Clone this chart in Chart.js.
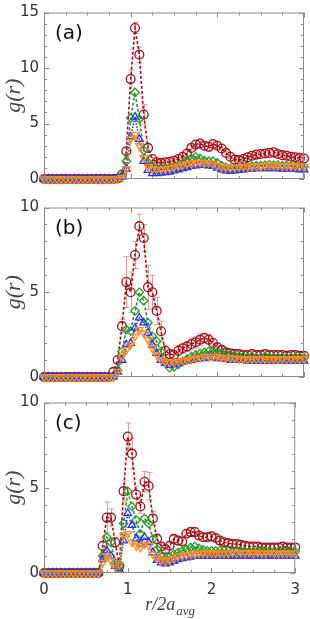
<!DOCTYPE html>
<html lang="en">
<head>
  <meta charset="UTF-8">
  <title>g(r) panels</title>
  <script src="https://cdn.jsdelivr.net/npm/chart.js"></script>
  <style>
    html, body { margin: 0; padding: 0; background: #fff; }
    .wrap { position: relative; width: 310px; height: 619px; }
    .panel { position: absolute; left: 0; width: 310px; }
  </style>
</head>
<body>
  <div class="wrap">
    <div class="panel" style="top:0"><canvas id="chartA" width="310" height="195"></canvas></div>
    <div class="panel" style="top:195px"><canvas id="chartB" width="310" height="195"></canvas></div>
    <div class="panel" style="top:390px"><canvas id="chartC" width="310" height="229"></canvas></div>
  </div>

  <script>
    // r / 2a_avg sample positions
    const r = [0, 0.05, 0.1, 0.15, 0.2, 0.25, 0.3, 0.35, 0.4, 0.45,
      0.5, 0.55, 0.6, 0.65, 0.7, 0.75, 0.8, 0.85, 0.9, 0.95,
      1.0, 1.05, 1.1, 1.15, 1.2, 1.25, 1.3, 1.35, 1.4, 1.45,
      1.5, 1.55, 1.6, 1.65, 1.7, 1.75, 1.8, 1.85, 1.9, 1.95,
      2.0, 2.05, 2.1, 2.15, 2.2, 2.25, 2.3, 2.35, 2.4, 2.45,
      2.5, 2.55, 2.6, 2.65, 2.7, 2.75, 2.8, 2.85, 2.9, 2.95, 3.0];

    // panel (a)
    const redA = [0, 0, 0, 0, 0, 0, 0, 0, 0, 0, 0, 0, 0, 0, 0, 0, 0, 0.05, 0.4, 2.5,
      9.0, 13.6, 11.2, 5.8, 2.8, 1.8, 1.5, 1.45, 1.5, 1.55,
      1.65, 1.8, 2.0, 2.3, 2.8, 3.1, 3.2, 3.0, 2.9, 3.15,
      3.0, 2.75, 2.35, 2.0, 1.75, 1.7, 1.8, 1.95, 2.1, 2.2,
      2.25, 2.3, 2.35, 2.4, 2.25, 2.15, 2.1, 2.0, 1.95, 1.9, 1.85];
    const greenA = [0, 0, 0, 0, 0, 0, 0, 0, 0, 0, 0, 0, 0, 0, 0, 0, 0, 0.05, 0.3, 1.6,
      5.5, 7.8, 5.4, 2.6, 1.5, 1.1, 0.95, 0.9, 0.95, 1.0,
      1.1, 1.2, 1.4, 1.6, 1.85, 2.0, 1.85, 1.65, 1.6, 1.6,
      1.45, 1.2, 1.05, 0.95, 0.95, 1.0, 1.05, 1.1, 1.15, 1.2,
      1.2, 1.25, 1.3, 1.25, 1.25, 1.2, 1.2, 1.15, 1.15, 1.1, 1.1];
    const blueA = [0, 0, 0, 0, 0, 0, 0, 0, 0, 0, 0, 0, 0, 0, 0, 0, 0, 0, 0.2, 0.9,
      3.8, 5.6, 3.6, 1.6, 0.8, 0.5, 0.5, 0.55, 0.6, 0.65,
      0.75, 0.85, 0.95, 1.05, 1.15, 1.2, 1.25, 1.25, 1.2, 1.15,
      1.0, 0.85, 0.75, 0.7, 0.75, 0.8, 0.85, 0.9, 0.9, 0.95,
      0.95, 0.95, 0.95, 0.95, 0.95, 0.9, 0.9, 0.9, 0.9, 0.85, 0.85];
    const orangeA = [0, 0, 0, 0, 0, 0, 0, 0, 0, 0, 0, 0, 0, 0, 0, 0, 0, 0, 0.1, 0.9,
      3.6, 4.0, 3.0, 1.9, 1.1, 0.9, 0.85, 0.85, 0.9, 0.95,
      1.05, 1.15, 1.25, 1.35, 1.4, 1.45, 1.5, 1.45, 1.45, 1.35,
      1.2, 1.05, 1.0, 1.0, 1.0, 1.05, 1.1, 1.1, 1.1, 1.15,
      1.15, 1.2, 1.2, 1.2, 1.2, 1.15, 1.15, 1.15, 1.15, 1.1, 1.1];
    const errA = [0, 0, 0, 0, 0, 0, 0, 0, 0, 0, 0, 0, 0, 0, 0, 0, 0, 0, 0.1, 0.3,
      0.8, 0.5, 0.7, 0.9, 0.3, 0.15, 0.15, 0.15, 0.15, 0.15,
      0.15, 0.15, 0.15, 0.2, 0.2, 0.25, 0.25, 0.3, 0.4, 0.3,
      0.25, 0.2, 0.15, 0.15, 0.15, 0.15, 0.15, 0.15, 0.15, 0.15,
      0.15, 0.15, 0.15, 0.15, 0.15, 0.15, 0.15, 0.15, 0.15, 0.15, 0.15];

    // panel (b)
    const redB = [0, 0, 0, 0, 0, 0, 0, 0, 0, 0, 0, 0, 0, 0, 0, 0, 0.3, 1.0, 3.0, 5.6,
      5.0, 7.2, 8.9, 8.2, 5.3, 5.0, 3.9, 2.7, 1.55, 1.35,
      1.3, 1.55, 1.7, 1.8, 1.95, 2.05, 2.2, 2.3, 2.2, 2.0,
      1.75, 1.6, 1.45, 1.4, 1.35, 1.35, 1.3, 1.3, 1.35, 1.3,
      1.3, 1.35, 1.3, 1.3, 1.3, 1.3, 1.25, 1.3, 1.3, 1.25, 1.25];
    const greenB = [0, 0, 0, 0, 0, 0, 0, 0, 0, 0, 0, 0, 0, 0, 0, 0, 0, 0.4, 1.5, 2.8,
      2.7, 3.9, 5.0, 4.5, 3.2, 2.4, 2.1, 1.5, 0.9, 0.55,
      0.6, 0.75, 0.9, 1.05, 1.2, 1.3, 1.4, 1.45, 1.5, 1.5,
      1.45, 1.4, 1.35, 1.3, 1.25, 1.2, 1.2, 1.15, 1.2, 1.15,
      1.15, 1.2, 1.15, 1.15, 1.15, 1.15, 1.15, 1.15, 1.15, 1.15, 1.15];
    const blueB = [0, 0, 0, 0, 0, 0, 0, 0, 0, 0, 0, 0, 0, 0, 0, 0, 0, 0.3, 1.0, 1.9,
      2.0, 2.9, 3.5, 3.2, 2.6, 1.9, 1.4, 1.0, 0.8, 0.7,
      0.75, 0.8, 0.9, 0.95, 1.0, 1.05, 1.1, 1.1, 1.15, 1.15,
      1.1, 1.1, 1.05, 1.0, 1.0, 1.0, 1.0, 0.95, 0.95, 0.95,
      0.95, 0.95, 0.95, 0.95, 1.0, 0.95, 0.95, 0.95, 0.95, 0.95, 0.95];
    const orangeB = [0, 0, 0, 0, 0, 0, 0, 0, 0, 0, 0, 0, 0, 0, 0, 0, 0, 0.3, 1.2, 1.6,
      1.9, 2.4, 2.8, 2.6, 2.2, 1.7, 1.3, 1.0, 0.9, 0.85,
      0.85, 0.9, 0.95, 1.0, 1.05, 1.1, 1.15, 1.2, 1.2, 1.2,
      1.2, 1.15, 1.1, 1.1, 1.1, 1.05, 1.05, 1.05, 1.05, 1.05,
      1.05, 1.05, 1.05, 1.05, 1.05, 1.05, 1.05, 1.05, 1.05, 1.05, 1.05];
    const errB = [0, 0, 0, 0, 0, 0, 0, 0, 0, 0, 0, 0, 0, 0, 0, 0, 0.2, 0.2, 0.4, 1.5,
      1.2, 0.8, 0.7, 0.8, 1.3, 1.0, 0.8, 0.6, 0.3, 0.25,
      0.25, 0.3, 0.3, 0.3, 0.35, 0.35, 0.35, 0.3, 0.3, 0.3,
      0.25, 0.2, 0.2, 0.2, 0.2, 0.2, 0.2, 0.2, 0.25, 0.2,
      0.2, 0.25, 0.2, 0.2, 0.2, 0.2, 0.2, 0.2, 0.2, 0.2, 0.2];

    // panel (c)
    const redC = [0, 0, 0, 0, 0, 0, 0, 0, 0, 0, 0, 0, 0, 0, 1.6, 3.25, 3.25, 1.8, 0.4, 4.8,
      8.0, 7.0, 4.6, 3.9, 5.35, 5.1, 3.2, 2.0, 1.55, 1.4,
      1.6, 2.0, 1.9, 1.85, 2.3, 2.4, 2.4, 2.2, 2.1, 2.1,
      2.15, 2.05, 1.9, 1.8, 1.75, 1.7, 1.7, 1.65, 1.6, 1.55,
      1.55, 1.55, 1.5, 1.5, 1.5, 1.5, 1.5, 1.55, 1.5, 1.5, 1.5];
    const greenC = [0, 0, 0, 0, 0, 0, 0, 0, 0, 0, 0, 0, 0, 0, 1.0, 2.1, 1.8, 0.6, 0.4, 2.9,
      4.8, 3.9, 3.1, 2.3, 3.2, 2.9, 2.0, 1.4, 0.95, 0.85,
      0.95, 1.1, 1.2, 1.3, 1.4, 1.5, 1.55, 1.45, 1.35, 1.3,
      1.3, 1.3, 1.3, 1.3, 1.3, 1.25, 1.3, 1.25, 1.25, 1.25,
      1.25, 1.25, 1.25, 1.25, 1.25, 1.25, 1.25, 1.25, 1.25, 1.25, 1.25];
    const blueC = [0, 0, 0, 0, 0, 0, 0, 0, 0, 0, 0, 0, 0, 0, 0.8, 1.3, 1.0, 0.4, 0.2, 1.9,
      3.5, 2.8, 2.0, 1.7, 2.1, 1.8, 1.2, 0.75, 0.6, 0.55,
      0.6, 0.7, 0.8, 0.85, 0.9, 0.95, 1.0, 1.0, 1.0, 1.0,
      1.0, 1.0, 1.0, 1.0, 1.0, 1.0, 1.0, 1.0, 1.0, 1.0,
      1.0, 1.0, 1.0, 1.0, 1.0, 1.0, 1.0, 1.0, 1.0, 1.0, 1.0];
    const orangeC = [0, 0, 0, 0, 0, 0, 0, 0, 0, 0, 0, 0, 0, 0, 0.6, 1.0, 0.7, 0.35, 0.5, 2.2,
      2.3, 1.8, 1.6, 1.5, 1.7, 1.6, 1.1, 0.85, 0.75, 0.7,
      0.75, 0.85, 0.95, 1.0, 1.05, 1.1, 1.1, 1.15, 1.15, 1.15,
      1.15, 1.15, 1.15, 1.15, 1.15, 1.2, 1.15, 1.2, 1.15, 1.2,
      1.15, 1.2, 1.15, 1.15, 1.2, 1.15, 1.15, 1.15, 1.15, 1.15, 1.15];
    const errC = [0, 0, 0, 0, 0, 0, 0, 0, 0, 0, 0, 0, 0, 0, 0.4, 0.9, 0.5, 0.3, 0.2, 0.6,
      0.8, 0.9, 0.5, 0.4, 0.6, 0.8, 0.4, 0.3, 0.2, 0.2,
      0.2, 0.2, 0.2, 0.2, 0.2, 0.25, 0.25, 0.2, 0.2, 0.2,
      0.25, 0.2, 0.2, 0.2, 0.2, 0.2, 0.2, 0.2, 0.2, 0.2,
      0.2, 0.2, 0.2, 0.2, 0.2, 0.2, 0.2, 0.2, 0.2, 0.2, 0.2];

    const xTicks = [0, 1, 2, 3];

    const tickFont = { family: 'DejaVu Sans', size: 15, lineHeight: 1 };

    // frame, inward ticks, error bars and panel letter
    const framePlugin = {
      id: 'frame',
      beforeDatasetsDraw(chart) {
        const ctx = chart.ctx, xs = chart.scales.x, ys = chart.scales.y;
        ctx.save();
        ctx.strokeStyle = 'rgba(210,120,120,0.7)';
        ctx.lineWidth = 1;
        chart.data.datasets.forEach(ds => {
          if (!ds.errors) return;
          ds.data.forEach((p, i) => {
            const e = ds.errors[i];
            if (!e) return;
            const px = Math.round(xs.getPixelForValue(p.x)) + 0.5;
            const t = ys.getPixelForValue(p.y + e), b = ys.getPixelForValue(p.y - e);
            ctx.beginPath();
            ctx.moveTo(px, t); ctx.lineTo(px, b);
            ctx.moveTo(px - 3, t); ctx.lineTo(px + 3, t);
            ctx.moveTo(px - 3, b); ctx.lineTo(px + 3, b);
            ctx.stroke();
          });
        });
        ctx.restore();
      },
      afterDraw(chart, args, opts) {
        const ctx = chart.ctx, xs = chart.scales.x, ys = chart.scales.y;
        const { left, right, top, bottom } = chart.chartArea;
        ctx.save();
        ctx.strokeStyle = '#8c8c8c';
        ctx.lineWidth = 1;
        ctx.strokeRect(left + 0.5, top + 0.5, right - left - 1, bottom - top - 1);
        ctx.beginPath();
        for (let v = xs.min; v <= xs.max + 1e-6; v += 0.25) {
          const px = Math.round(xs.getPixelForValue(v)) + 0.5;
          const len = Math.abs(v - Math.round(v)) < 1e-6 ? 5 : 3;
          ctx.moveTo(px, bottom); ctx.lineTo(px, bottom - len);
          ctx.moveTo(px, top); ctx.lineTo(px, top + len);
        }
        for (let v = ys.min; v <= ys.max + 1e-6; v += 1) {
          const py = Math.round(ys.getPixelForValue(v)) + 0.5;
          const len = v % 5 === 0 ? 5 : 3;
          ctx.moveTo(left, py); ctx.lineTo(left + len, py);
          ctx.moveTo(right, py); ctx.lineTo(right - len, py);
        }
        ctx.stroke();

        ctx.fillStyle = '#111';
        ctx.font = '20px "DejaVu Sans"';
        ctx.textBaseline = 'alphabetic';
        ctx.fillText(opts.label, left + 11, top + 26);

        if (opts.xTitle) {
          ctx.fillStyle = '#444';
          ctx.font = 'italic 18px "Liberation Serif"';
          const main = 'r/2a';
          const w = ctx.measureText(main).width;
          ctx.font = 'italic 13px "Liberation Serif"';
          const ws = ctx.measureText('avg').width;
          const x0 = (left + right) / 2 - (w + ws) / 2;
          ctx.font = 'italic 18px "Liberation Serif"';
          ctx.fillText(main, x0, chart.height - 9);
          ctx.font = 'italic 13px "Liberation Serif"';
          ctx.fillText('avg', x0 + w + 1, chart.height - 4);
        }
        ctx.restore();
      }
    };

    function series(vals, style) {
      return Object.assign({
        data: r.map((x, i) => ({ x: x, y: vals[i] })),
        backgroundColor: 'rgba(0,0,0,0)',
        borderWidth: 1.6,
        pointBorderWidth: 1.3,
        clip: false,
        tension: 0
      }, style);
    }

    function makeChart(id, vals, err, yMax, label, isBottom, pad) {
      const datasets = [
        series(vals[3], { borderColor: '#ff8c1a', borderDash: [1.5, 1.5], pointStyle: 'triangle', pointRotation: 180, pointRadius: 4.4 }),
        series(vals[2], { borderColor: '#1f35ff', borderDash: [1.5, 1.5], pointStyle: 'triangle', pointRadius: 4.4 }),
        series(vals[1], { borderColor: '#2a9a2a', borderDash: [3, 2], pointStyle: 'rectRot', pointRadius: 4.2 }),
        series(vals[0], { borderColor: '#a50d17', borderDash: [3, 2], pointStyle: 'circle', pointRadius: 4.4, errors: err })
      ];
      return new Chart(document.getElementById(id), {
        type: 'line',
        data: { datasets: datasets },
        plugins: [framePlugin],
        options: {
          responsive: false,
          animation: false,
          layout: { padding: pad },
          plugins: {
            legend: { display: false },
            tooltip: { enabled: false },
            frame: { label: label, xTitle: isBottom }
          },
          scales: {
            x: {
              type: 'linear',
              min: 0,
              max: 3,
              display: isBottom,
              afterFit: s => { if (isBottom) s.height = 46; },
              afterBuildTicks: s => { s.ticks = xTicks.map(v => ({ value: v })); },
              grid: { display: false, drawTicks: false },
              border: { display: false },
              ticks: { font: tickFont, color: '#333', padding: 10 }
            },
            y: {
              min: 0,
              max: yMax,
              afterFit: s => { s.width = 44; },
              grid: { display: false, drawTicks: false },
              border: { display: false },
              ticks: { stepSize: 5, font: tickFont, color: '#333', padding: 5 },
              title: {
                display: true,
                text: 'g(r)',
                color: '#444',
                font: { family: 'Liberation Serif', style: 'italic', size: 22 },
                padding: { top: 1, bottom: 0 }
              }
            }
          }
        }
      });
    }

    makeChart('chartA', [redA, greenA, blueA, orangeA], errA, 15, '(a)', false, { left: 0, right: 6, top: 8, bottom: 16 });
    makeChart('chartB', [redB, greenB, blueB, orangeB], errB, 10, '(b)', false, { left: 0, right: 6, top: 8, bottom: 13 });
    makeChart('chartC', [redC, greenC, blueC, orangeC], errC, 10, '(c)', true, { left: 0, right: 6, top: 9, bottom: 0 });
  </script>
</body>
</html>
